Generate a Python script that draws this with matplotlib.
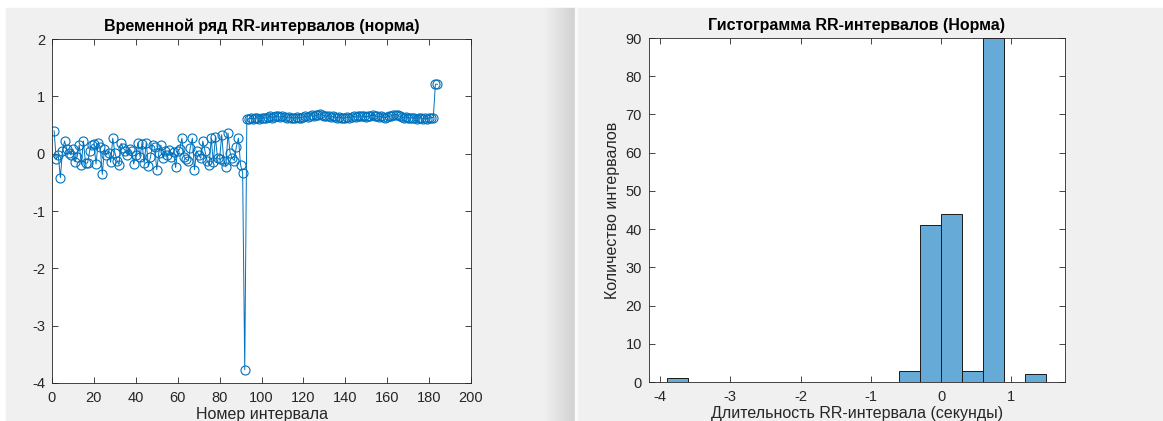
import matplotlib as mpl
mpl.use('Agg')
import matplotlib.pyplot as plt
import numpy as np
from matplotlib.patches import Rectangle

plt.rcParams['font.family'] = ['Liberation Sans', 'DejaVu Sans']
plt.rcParams['axes.unicode_minus'] = False

# RR-интервалы (норма), отсчёты 1..184
rr_first = [0.40, -0.10, -0.03, -0.42, 0.05, 0.22, 0.08, 0.02, -0.02, 0.08,
            -0.14, -0.05, 0.15, -0.19, 0.22, -0.17, -0.16, 0.05, 0.15, 0.17,
            -0.18, 0.18, 0.12, -0.36, 0.08, -0.02, 0.02, -0.15, 0.27, 0.02,
            -0.12, -0.19, 0.18, 0.10, 0.05, -0.02, 0.08, 0.04, -0.18, -0.02,
            0.19, -0.05, 0.17, -0.16, 0.19, -0.22, -0.06, 0.15, 0.12, -0.28,
            0.02, 0.15, -0.08, 0.05, -0.02, 0.06, -0.05, 0.03, -0.24, 0.05,
            0.08, 0.27, -0.05, -0.10, -0.12, 0.10, 0.27, -0.28, 0.05, -0.02,
            -0.08, 0.22, 0.05, -0.12, -0.20, 0.27, -0.15, 0.29, -0.08, -0.10,
            0.33, -0.12, -0.23, 0.36, 0.02, -0.08, -0.12, 0.12, 0.27, -0.20,
            -0.33]
rr_drop = [-3.77]
rr_second = [0.60, 0.61, 0.62, 0.61, 0.62, 0.63, 0.61, 0.62, 0.63, 0.62,
             0.64, 0.65, 0.63, 0.64, 0.66, 0.65, 0.64, 0.65, 0.64, 0.63,
             0.64, 0.63, 0.62, 0.63, 0.64, 0.62, 0.63, 0.64, 0.65, 0.64,
             0.66, 0.67, 0.65, 0.67, 0.68, 0.69, 0.67, 0.66, 0.65, 0.66,
             0.64, 0.65, 0.64, 0.63, 0.64, 0.63, 0.62, 0.63, 0.64, 0.63,
             0.64, 0.65, 0.64, 0.66, 0.65, 0.66, 0.65, 0.64, 0.65, 0.66,
             0.67, 0.66, 0.65, 0.64, 0.65, 0.64, 0.63, 0.64, 0.65, 0.66,
             0.67, 0.68, 0.67, 0.65, 0.64, 0.63, 0.64, 0.63, 0.62, 0.63,
             0.62, 0.61, 0.62, 0.63, 0.61, 0.62, 0.61, 0.62, 0.63, 0.63]
rr_end = [1.21, 1.21]
rr = np.array(rr_first + rr_drop + rr_second + rr_end)
idx = np.arange(1, len(rr) + 1)

# гистограмма
bin_edges = [-3.9, -3.6, -3.3, -3.0, -2.7, -2.4, -2.1, -1.8, -1.5, -1.2,
             -0.9, -0.6, -0.3, 0.0, 0.3, 0.6, 0.9, 1.2, 1.5]
bin_counts = [1, 0, 0, 0, 0, 0, 0, 0, 0, 0, 0, 3, 41, 44, 3, 90, 0, 2]

blue = '#0072BD'
axcol = '#262626'

fig = plt.figure(figsize=(11.63, 4.21), dpi=100, facecolor='white')

# фон двух окон
W, H = 1163.0, 421.0
fig.patches.append(Rectangle((6 / W, 0), (545 - 6) / W, 413 / H,
                             transform=fig.transFigure, color='#f0f0f0', zorder=-10))
shades = np.linspace(0xf0, 0xd2, 30)
for k, s in enumerate(shades):
    c = '#%02x%02x%02x' % (int(s), int(s), int(s))
    fig.patches.append(Rectangle(((545 + k) / W, 0), 1.05 / W, 413 / H,
                                 transform=fig.transFigure, color=c, zorder=-10))
fig.patches.append(Rectangle((575 / W, 0), 3 / W, 413 / H,
                             transform=fig.transFigure, color='#fafafa', zorder=-10))
fig.patches.append(Rectangle((578 / W, 0), (W - 578) / W, 413 / H,
                             transform=fig.transFigure, color='#f0f0f0', zorder=-10))


def style(ax):
    ax.tick_params(direction='in', top=True, right=True, length=4, width=0.6,
                   colors=axcol, labelsize=10.5)
    ax.tick_params(axis='x', pad=6)
    ax.tick_params(axis='y', pad=5)
    for sp in ax.spines.values():
        sp.set_color(axcol)
        sp.set_linewidth(0.6)


ax1 = fig.add_axes([52 / W, 1 - 383 / H, 419 / W, 344 / H])
ax1.plot(idx, rr, '-o', color=blue, lw=0.7, markersize=6.5,
         markerfacecolor='none', markeredgewidth=0.8)
ax1.set_xlim(0, 200)
ax1.set_ylim(-4, 2)
ax1.set_xticks(np.arange(0, 201, 20))
ax1.set_yticks(np.arange(-4, 3, 1))
ax1.set_title('Временной ряд RR-интервалов (норма)', fontsize=11.5,
              fontweight='bold', pad=6)
ax1.set_xlabel('Номер интервала', fontsize=11.5, color=axcol, labelpad=1)
style(ax1)

ax2 = fig.add_axes([649 / W, 1 - 382 / H, 416 / W, 344 / H])
ax2.bar(bin_edges[:-1], bin_counts, width=np.diff(bin_edges), align='edge',
        color='#66AAD7', edgecolor='#1a1a1a', linewidth=0.7)
ax2.set_xlim(-4.157, 1.765)
ax2.set_ylim(0, 90)
ax2.set_xticks(np.arange(-4, 2, 1))
ax2.set_yticks(np.arange(0, 91, 10))
ax2.set_title('Гистограмма RR-интервалов (Норма)', fontsize=11.5,
              fontweight='bold', pad=6)
ax2.set_xlabel('Длительность RR-интервала (секунды)', fontsize=11.5,
               color=axcol, labelpad=1)
ax2.set_ylabel('Количество интервалов', fontsize=11.5, color=axcol, labelpad=4)
style(ax2)

fig.savefig('out.png', dpi=100)
